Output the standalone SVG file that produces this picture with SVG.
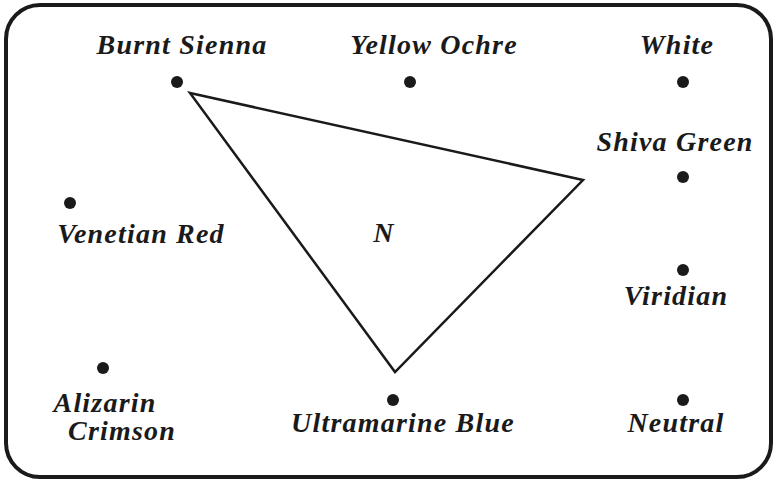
<svg xmlns="http://www.w3.org/2000/svg" width="777" height="482" viewBox="0 0 777 482">
<style>
.lbl{font-family:"Liberation Serif","Times New Roman",serif;font-weight:bold;font-style:italic;font-size:28px;letter-spacing:1.2px;fill:#1a1a1a;text-anchor:middle}
.dot{fill:#1a1a1a}
</style>
<rect x="6" y="5" width="765" height="472" rx="34" ry="34" fill="#fff" stroke="#1a1a1a" stroke-width="4"/>
<g id="connectors">
<polygon points="190,93 583,180 395,372" fill="none" stroke="#1a1a1a" stroke-width="2.5"/>
</g>
<g id="burnt-sienna"><circle class="dot" cx="177" cy="82" r="6"/><text class="lbl" x="182" y="54">Burnt Sienna</text></g>
<g id="yellow-ochre"><circle class="dot" cx="410" cy="82" r="6"/><text class="lbl" x="434" y="54">Yellow Ochre</text></g>
<g id="white"><circle class="dot" cx="683" cy="82" r="6"/><text class="lbl" x="677" y="54">White</text></g>
<g id="shiva-green"><circle class="dot" cx="683" cy="177" r="6"/><text class="lbl" x="675" y="151">Shiva Green</text></g>
<g id="venetian-red"><circle class="dot" cx="70" cy="203" r="6"/><text class="lbl" x="141" y="243">Venetian Red</text></g>
<g id="viridian"><circle class="dot" cx="683" cy="270" r="6"/><text class="lbl" x="676" y="305">Viridian</text></g>
<g id="alizarin-crimson"><circle class="dot" cx="103" cy="368" r="6"/><text class="lbl" x="105" y="412">Alizarin</text><text class="lbl" x="122" y="440">Crimson</text></g>
<g id="ultramarine-blue"><circle class="dot" cx="393" cy="400" r="6"/><text class="lbl" x="403" y="432">Ultramarine Blue</text></g>
<g id="neutral"><circle class="dot" cx="683" cy="400" r="6"/><text class="lbl" x="676" y="432">Neutral</text></g>
<g id="n-label"><text class="lbl" x="384" y="242">N</text></g>
</svg>
